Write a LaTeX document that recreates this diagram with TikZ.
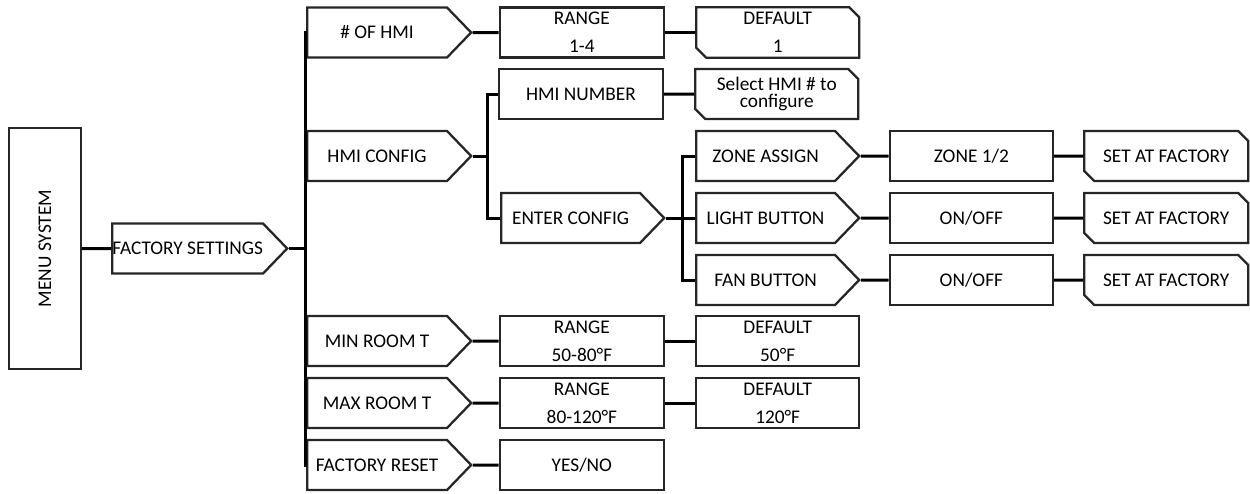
\documentclass[tikz,border=0pt]{standalone}
\usepackage{fontspec}
\setmainfont{Carlito}
\usetikzlibrary{positioning,shapes.symbols,shapes.misc,calc}
\definecolor{boxline}{RGB}{38,38,38}
\tikzset{
  basebox/.style={draw=boxline, line width=1.3pt, fill=white, inner sep=0pt,
    align=center, font=\fontsize{11}{12}\selectfont, minimum height=1cm},
  plainbox/.style={basebox, minimum width=3.28cm},
  arrowbox/.style={basebox, shape=signal, signal to=east,
    signal pointer angle=92, minimum width=3.28cm},
  cutbox/.style={basebox, chamfered rectangle,
    chamfered rectangle corners={north east,south west},
    chamfered rectangle xsep=0.1cm, chamfered rectangle ysep=0.1cm,
    minimum width=3.26cm},
  link/.style={draw=black, line width=1.7pt},
}

\begin{document}
\begin{tikzpicture}
  \useasboundingbox (0,0) rectangle (25,-9.86);

  % Root and first level
  \node[basebox, minimum width=1.44cm, minimum height=4.82cm] (menu) at (0.9,-4.97)
    {\rotatebox{90}{MENU SYSTEM}};
  \node[arrowbox, minimum width=3.26cm, right=0.58cm of menu] (fs) {FACTORY SETTINGS};
  \coordinate[right=0.34cm of fs.east] (trunk);

  % Settings column
  \node[arrowbox, anchor=west] (hmi)   at (6.12,-0.65) {\# OF HMI};
  \node[arrowbox, anchor=west] (cfg)   at (6.12,-3.12) {HMI CONFIG};
  \node[arrowbox, anchor=west] (min)   at (6.12,-6.82) {MIN ROOM T};
  \node[arrowbox, anchor=west] (max)   at (6.12,-8.06) {MAX ROOM T};
  \node[arrowbox, anchor=west] (reset) at (6.12,-9.30) {FACTORY RESET};

  % Values
  \node[plainbox, right=0.52cm of hmi] (range1) {RANGE\\[4pt]1-4};
  \node[cutbox, right=0.6cm of range1] (def1) {DEFAULT\\[4pt]1};
  \node[plainbox, right=0.52cm of min] (rangemin) {RANGE\\[4pt]50-80°F};
  \node[plainbox, minimum width=3.26cm, right=0.6cm of rangemin] (defmin) {DEFAULT\\[4pt]50°F};
  \node[plainbox, right=0.52cm of max] (rangemax) {RANGE\\[4pt]80-120°F};
  \node[plainbox, minimum width=3.26cm, right=0.6cm of rangemax] (defmax) {DEFAULT\\[4pt]120°F};
  \node[plainbox, right=0.52cm of reset] (yesno) {YES/NO};

  % HMI config branch
  \coordinate[right=0.3cm of cfg.east] (cfgtrunk);
  \node[plainbox] (hminum) at (11.62,-1.88) {HMI NUMBER};
  \node[cutbox, font=\fontsize{11}{9.5}\selectfont, right=0.6cm of hminum] (select)
    {Select HMI \# to\\configure};
  \node[arrowbox, minimum width=3.26cm, anchor=west] (enter) at (10.0,-4.36) {ENTER CONFIG};
  \coordinate[right=0.34cm of enter.east] (entertrunk);

  \node[arrowbox, minimum width=3.26cm, anchor=west] (zone)  at (13.9,-3.12) {ZONE ASSIGN};
  \node[arrowbox, minimum width=3.26cm, anchor=west] (light) at (13.9,-4.36) {LIGHT BUTTON};
  \node[arrowbox, minimum width=3.26cm, anchor=west] (fan)   at (13.9,-5.60) {FAN BUTTON};

  \node[plainbox, minimum width=3.26cm, right=0.56cm of zone]  (zoneval)  {ZONE 1/2};
  \node[plainbox, minimum width=3.26cm, right=0.56cm of light] (lightval) {ON/OFF};
  \node[plainbox, minimum width=3.26cm, right=0.56cm of fan]   (fanval)   {ON/OFF};
  \node[cutbox, minimum width=3.28cm, right=0.58cm of zoneval]  (zoneset)  {SET AT FACTORY};
  \node[cutbox, minimum width=3.28cm, right=0.58cm of lightval] (lightset) {SET AT FACTORY};
  \node[cutbox, minimum width=3.28cm, right=0.58cm of fanval]   (fanset)   {SET AT FACTORY};

  % Connectors
  \draw[link] (menu) -- (fs);
  \draw[link] (fs.east) -- (trunk);
  \foreach \n in {hmi,cfg,min,max,reset}
    \draw[link] (trunk) |- (\n.west);
  \draw[link] (cfg.east) -- (cfgtrunk);
  \foreach \n in {hminum,enter}
    \draw[link] (cfgtrunk) |- (\n.west);
  \draw[link] (enter.east) -- (entertrunk);
  \foreach \n in {zone,light,fan}
    \draw[link] (entertrunk) |- (\n.west);

  \draw[link] (hmi) -- (range1);
  \draw[link] (range1) -- (def1);
  \draw[link] (hminum) -- (select);
  \draw[link] (min) -- (rangemin);
  \draw[link] (rangemin) -- (defmin);
  \draw[link] (max) -- (rangemax);
  \draw[link] (rangemax) -- (defmax);
  \draw[link] (reset) -- (yesno);
  \draw[link] (zone) -- (zoneval);
  \draw[link] (zoneval) -- (zoneset);
  \draw[link] (light) -- (lightval);
  \draw[link] (lightval) -- (lightset);
  \draw[link] (fan) -- (fanval);
  \draw[link] (fanval) -- (fanset);
\end{tikzpicture}
\end{document}
